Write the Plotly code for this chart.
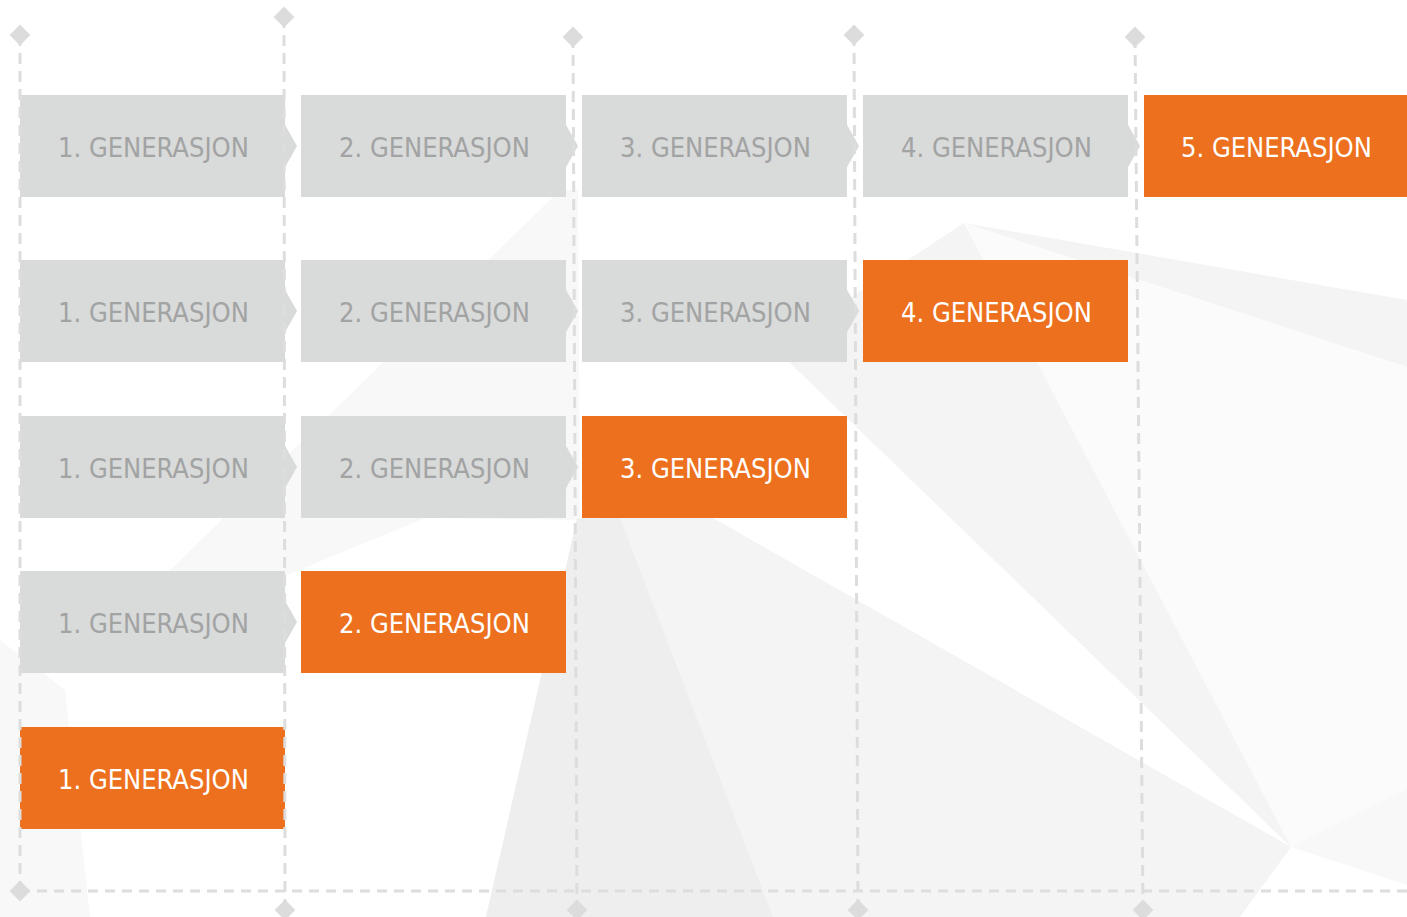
import plotly.graph_objects as go

# ---- data ----
generations = ["1. GENERASJON", "2. GENERASJON", "3. GENERASJON", "4. GENERASJON", "5. GENERASJON"]
row_lengths = [5, 4, 3, 2, 1]          # boxes per row; the last box in each row is highlighted

# ---- layout / style constants ----
W, H = 1407, 917
COL_X0, COL_STEP, BOX_W, BOX_H = 20, 281, 265, 102
ROW_TOP = [95, 260, 416, 571, 727]
GRAY_BOX, GRAY_TXT = "#d9dada", "#a2a3a3"
ORANGE, WHITE = "#ed701e", "#ffffff"
GUIDE = "#dddddd"
GUIDE_TOP = [(20, 35), (284, 17), (573, 37), (854, 35), (1135, 37)]
GUIDE_BOT = [(20, 891), (285, 910), (577, 910), (858, 910), (1143, 910)]
BASE_Y = 891
FONT = "Liberation Sans Narrow, DejaVu Sans Condensed, Roboto, sans-serif"

BACKGROUND = [
    ("#f8f8f8", [(560, 190), (578, 190), (580, 520), (425, 518), (287, 575), (165, 575)]),
    ("#f4f4f4", [(964, 223), (1407, 300), (1407, 367)]),
    ("#fbfbfb", [(964, 223), (1407, 367), (1407, 789), (1291, 847)]),
    ("#f8f8f8", [(1291, 847), (1407, 789), (1407, 885)]),
    ("#f4f4f4", [(964, 223), (1291, 847), (790, 363), (850, 298)]),
    ("#f4f4f4", [(577, 518), (713, 518), (1291, 847), (1240, 917), (486, 917)]),
    ("#eeeeee", [(577, 519), (620, 518), (773, 917), (486, 917)]),
    ("#f8f8f8", [(0, 640), (65, 690), (90, 917), (0, 917)]),
]

def poly_path(pts):
    return "M " + " L ".join(f"{x},{y}" for x, y in pts) + " Z"

shapes = []
for color, pts in BACKGROUND:
    shapes.append(dict(type="path", path=poly_path(pts), xref="x", yref="y",
                       fillcolor=color, line=dict(width=0), layer="below"))

annotations = []
for r, n in enumerate(row_lengths):
    y0 = ROW_TOP[r]
    y1 = y0 + BOX_H
    yc = (y0 + y1) / 2
    for c in range(n):
        x0 = COL_X0 + c * COL_STEP
        x1 = min(x0 + BOX_W, W)
        highlight = (c == n - 1)
        fill = ORANGE if highlight else GRAY_BOX
        shapes.append(dict(type="rect", x0=x0, x1=x1, y0=y0, y1=y1, xref="x", yref="y",
                           fillcolor=fill, line=dict(width=0), layer="below"))
        if not highlight:
            shapes.append(dict(type="path",
                               path=poly_path([(x1 - 1, yc - 23), (x1 + 12, yc), (x1 - 1, yc + 23)]),
                               xref="x", yref="y", fillcolor=fill, line=dict(width=0), layer="below"))
        annotations.append(dict(x=(x0 + x1) / 2 + 1, y=yc + 1, xref="x", yref="y", text=generations[c],
                                showarrow=False, xanchor="center", yanchor="middle",
                                font=dict(family=FONT, size=27,
                                          color=WHITE if highlight else GRAY_TXT)))

fig = go.Figure()

# horizontal base line
fig.add_trace(go.Scatter(x=[GUIDE_TOP[0][0], W], y=[BASE_Y, BASE_Y], mode="lines",
                         line=dict(color=GUIDE, width=3, dash="10px,7px"),
                         hoverinfo="skip", showlegend=False))
# vertical guides with diamond end markers
for (xt, yt), (xb, yb) in zip(GUIDE_TOP, GUIDE_BOT):
    fig.add_trace(go.Scatter(x=[xt, xb], y=[yt, yb], mode="lines+markers",
                             line=dict(color=GUIDE, width=3, dash="11px,7px"),
                             marker=dict(symbol="diamond", size=16, color="#dcdcdc"),
                             hoverinfo="skip", showlegend=False))

fig.update_layout(
    width=W, height=H, margin=dict(l=0, r=0, t=0, b=0),
    paper_bgcolor="white", plot_bgcolor="white",
    xaxis=dict(range=[0, W], visible=False, fixedrange=True),
    yaxis=dict(range=[H, 0], visible=False, fixedrange=True),
    shapes=shapes, annotations=annotations, showlegend=False,
)

fig.write_html("out.html", config={"displayModeBar": False},
               post_script="document.body.style.margin='0';document.body.style.overflow='hidden';")
